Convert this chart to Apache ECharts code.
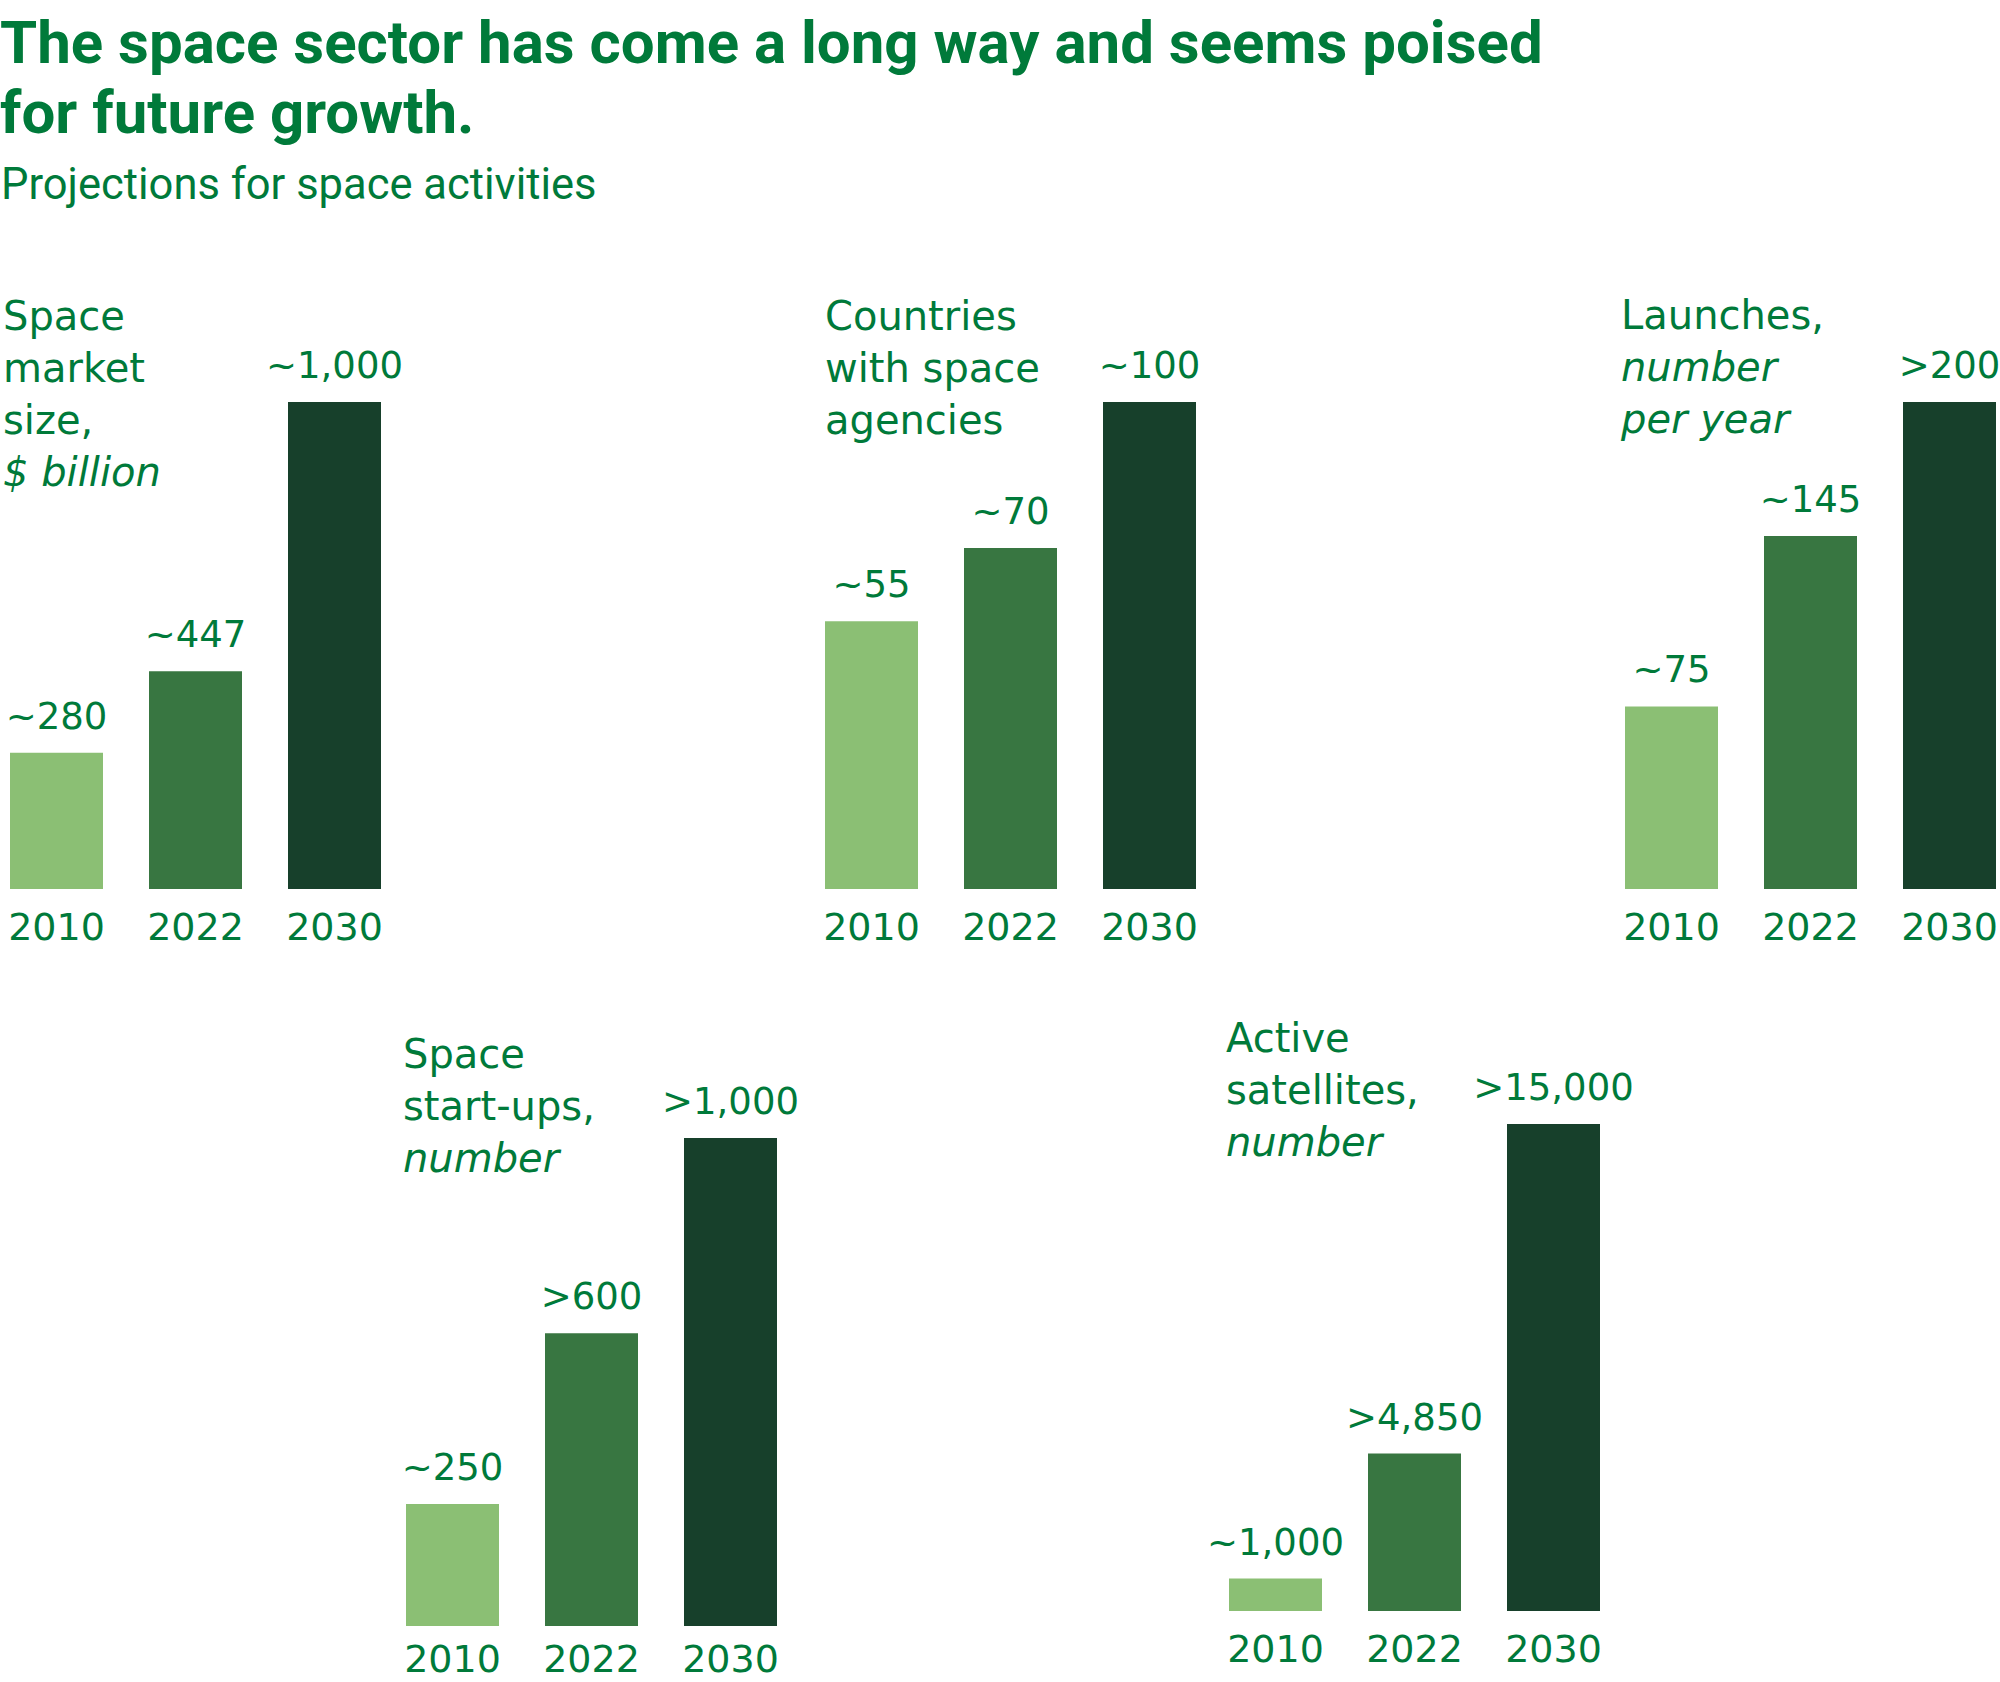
<!DOCTYPE html>
<html>
<head>
<meta charset="utf-8">
<script src="https://cdn.jsdelivr.net/npm/echarts@6/dist/echarts.min.js"></script>
<style>
  html, body { margin: 0; padding: 0; background: #fff; }
  #main { width: 2000px; height: 1682px; }
</style>
</head>
<body>
<div id="main"></div>
<script>
// --- data ---
var years = ['2010', '2022', '2030'];

var marketSize = [280, 447, 1000];
var marketSizeLabels = ['~280', '~447', '~1,000'];

var spaceAgencies = [55, 70, 100];
var spaceAgenciesLabels = ['~55', '~70', '~100'];

var launches = [75, 145, 200];
var launchesLabels = ['~75', '~145', '>200'];

var startups = [250, 600, 1000];
var startupsLabels = ['~250', '>600', '>1,000'];

var satellites = [1000, 4850, 15000];
var satellitesLabels = ['~1,000', '>4,850', '>15,000'];

var titleText = ['The space sector has come a long way and seems poised', 'for future growth.'];
var subtitleText = 'Projections for space activities';

// panel headings: [text, italic]
var marketHeading = [['Space', false], ['market', false], ['size,', false], ['$ billion', true]];
var agenciesHeading = [['Countries', false], ['with space', false], ['agencies', false]];
var launchesHeading = [['Launches,', false], ['number', true], ['per year', true]];
var startupsHeading = [['Space', false], ['start-ups,', false], ['number', true]];
var satellitesHeading = [['Active', false], ['satellites,', false], ['number', true]];

var GREEN = '#007a3a';
var barColors = ['#8bbf74', '#387641', '#17402b'];
var panelFont = '"DejaVu Sans", "Noto Sans", sans-serif';
var headFont = 'Roboto, "Noto Sans", sans-serif';

// where each little chart sits: first bar left edge, baseline, top of tallest bar, heading pos
var panels = [
  { values: marketSize, labels: marketSizeLabels, heading: marketHeading, barLeft: 10, bottom: 889, top: 402, hx: 3, hy: 333, yearGap: 24 },
  { values: spaceAgencies, labels: spaceAgenciesLabels, heading: agenciesHeading, barLeft: 825, bottom: 889, top: 402, hx: 825, hy: 333, yearGap: 24 },
  { values: launches, labels: launchesLabels, heading: launchesHeading, barLeft: 1625, bottom: 889, top: 402, hx: 1621, hy: 332, yearGap: 24 },
  { values: startups, labels: startupsLabels, heading: startupsHeading, barLeft: 406, bottom: 1626, top: 1138, hx: 403, hy: 1071, yearGap: 19 },
  { values: satellites, labels: satellitesLabels, heading: satellitesHeading, barLeft: 1229, bottom: 1611, top: 1124, hx: 1226, hy: 1055, yearGap: 24 }
];

var BAR_W = 93, STEP = 139, HEAD_FS = 40, HEAD_LH = 52;

var grids = [], xAxes = [], yAxes = [], series = [], graphics = [];

panels.forEach(function (p, i) {
  grids.push({
    left: p.barLeft - (STEP - BAR_W) / 2,
    top: p.top,
    width: STEP * years.length,
    height: p.bottom - p.top,
    outerBoundsMode: 'none',
    containLabel: false
  });
  xAxes.push({
    type: 'category',
    gridIndex: i,
    data: years,
    axisLine: { show: false },
    axisTick: { show: false },
    axisLabel: { color: GREEN, fontSize: 38, lineHeight: 28, fontFamily: panelFont, margin: p.yearGap }
  });
  yAxes.push({
    type: 'value',
    gridIndex: i,
    min: 0,
    max: Math.max.apply(null, p.values),
    show: false,
    splitLine: { show: false }
  });
  series.push({
    type: 'bar',
    xAxisIndex: i,
    yAxisIndex: i,
    barWidth: BAR_W,
    data: p.values.map(function (v, k) {
      return { value: v, itemStyle: { color: barColors[k] } };
    }),
    label: {
      show: true,
      position: 'top',
      distance: 18,
      color: GREEN,
      fontSize: 37,
      fontFamily: panelFont,
      formatter: function (d) { return p.labels[d.dataIndex]; }
    }
  });
  p.heading.forEach(function (line, k) {
    graphics.push({
      type: 'text',
      left: p.hx,
      top: p.hy - HEAD_FS * 0.93 + k * HEAD_LH,
      style: {
        text: line[0],
        fill: GREEN,
        font: (line[1] ? 'italic ' : '') + HEAD_FS + 'px ' + panelFont
      }
    });
  });
});

// headline and subtitle
titleText.forEach(function (t, k) {
  graphics.push({
    type: 'text',
    left: 0,
    top: 12 + k * 70,
    style: { text: t, fill: GREEN, font: 'bold 60px ' + headFont, lineHeight: 47 }
  });
});
graphics.push({
  type: 'text',
  left: 1,
  top: 162,
  style: { text: subtitleText, fill: GREEN, font: '43.5px ' + headFont, lineHeight: 34 }
});

var chart = echarts.init(document.getElementById('main'), null, { renderer: 'svg' });
chart.setOption({
  animation: false,
  backgroundColor: '#ffffff',
  grid: grids,
  xAxis: xAxes,
  yAxis: yAxes,
  series: series,
  graphic: graphics
});
</script>
</body>
</html>
